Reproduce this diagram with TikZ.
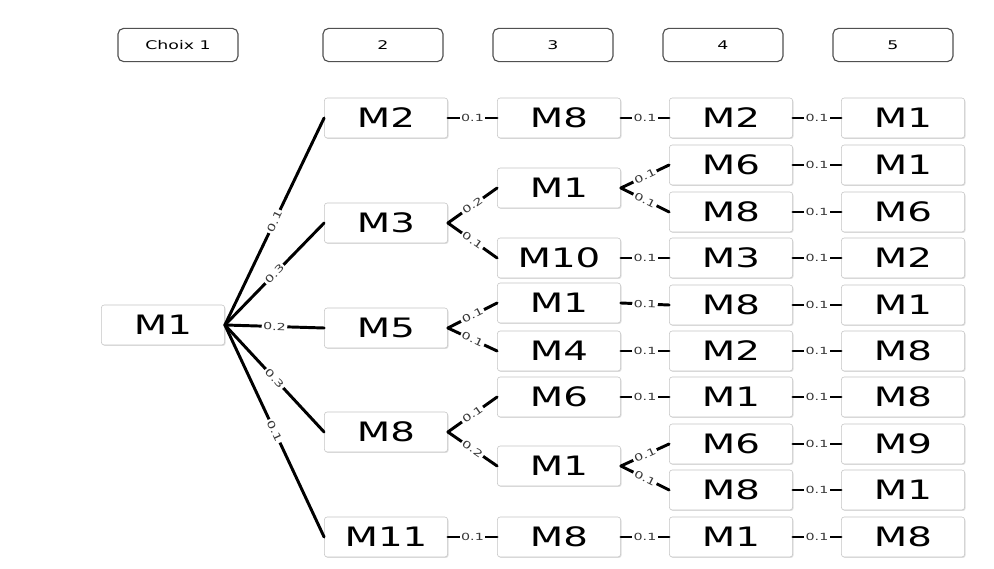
\documentclass[tikz,border=0pt]{standalone}
\usepackage{fontspec}
\setmainfont{DejaVu Sans}[FakeStretch=1.45]
\usetikzlibrary{shadows}
\definecolor{BoxGray}{HTML}{C4C4C4}
\definecolor{HeadGray}{HTML}{505050}
\definecolor{LabelGray}{HTML}{383838}

\begin{document}
\begin{tikzpicture}[x=0.025cm,y=-0.025cm,line cap=round,
  mbox/.style={draw=BoxGray,fill=white,rounded corners=2pt,minimum width=3.08cm,minimum height=1cm,inner sep=0pt,
    font=\fontsize{19}{21}\selectfont,drop shadow={opacity=.25,shadow xshift=.7pt,shadow yshift=-.7pt}},
  hbox/.style={draw=HeadGray,rounded corners=4pt,line width=.8pt,minimum width=3cm,minimum height=.83cm,inner sep=0pt,
    font=\fontsize{8.5}{10}\selectfont},
  link/.style={line width=2.1pt},
  prob/.style={midway,sloped,fill=white,inner sep=1pt,text=LabelGray,font=\fontsize{7}{8}\selectfont}]
  \useasboundingbox (0,0) rectangle (994,569);
  % en-tetes
  \node[hbox] (choix1) at (178,45) {Choix 1}; \node[hbox] (choix2) at (383,45) {2}; \node[hbox] (choix3) at (553,45) {3};
  \node[hbox] (choix4) at (723,45) {4}; \node[hbox] (choix5) at (893,45) {5};
  % boites
  \node[mbox] (r) at (163,325) {M1};
  \node[mbox] (a1) at (386,118) {M2}; \node[mbox] (a2) at (386,223) {M3}; \node[mbox] (a3) at (386,328) {M5};
  \node[mbox] (a4) at (386,432) {M8}; \node[mbox] (a5) at (386,537) {M11};
  \node[mbox] (b1) at (559,118) {M8}; \node[mbox] (b2) at (559,188) {M1}; \node[mbox] (b3) at (559,258) {M10};
  \node[mbox] (b4) at (559,303) {M1}; \node[mbox] (b5) at (559,351) {M4}; \node[mbox] (b6) at (559,397) {M6};
  \node[mbox] (b7) at (559,466) {M1}; \node[mbox] (b8) at (559,537) {M8};
  \node[mbox] (c1) at (731,118) {M2}; \node[mbox] (c2) at (731,165) {M6}; \node[mbox] (c3) at (731,212) {M8};
  \node[mbox] (c4) at (731,258) {M3}; \node[mbox] (c5) at (731,305) {M8}; \node[mbox] (c6) at (731,351) {M2};
  \node[mbox] (c7) at (731,397) {M1}; \node[mbox] (c8) at (731,444) {M6}; \node[mbox] (c9) at (731,490) {M8};
  \node[mbox] (c10) at (731,537) {M1};
  \node[mbox] (d1) at (903,118) {M1}; \node[mbox] (d2) at (903,165) {M1}; \node[mbox] (d3) at (903,212) {M6};
  \node[mbox] (d4) at (903,258) {M2}; \node[mbox] (d5) at (903,305) {M1}; \node[mbox] (d6) at (903,351) {M8};
  \node[mbox] (d7) at (903,397) {M8}; \node[mbox] (d8) at (903,444) {M9}; \node[mbox] (d9) at (903,490) {M1};
  \node[mbox] (d10) at (903,537) {M8};
  % choix 1 -> 2
  \draw[link] (r.east) -- (a1.west) node[prob] {0.1}; \draw[link] (r.east) -- (a2.west) node[prob] {0.3};
  \draw[link] (r.east) -- (a3.west) node[prob] {0.2}; \draw[link] (r.east) -- (a4.west) node[prob] {0.3};
  \draw[link] (r.east) -- (a5.west) node[prob] {0.1};
  % 2 -> 3
  \draw[link] (a1.east) -- (b1.west) node[prob] {0.1};
  \draw[link] (a2.east) -- (b2.west) node[prob] {0.2}; \draw[link] (a2.east) -- (b3.west) node[prob] {0.1};
  \draw[link] (a3.east) -- (b4.west) node[prob] {0.1}; \draw[link] (a3.east) -- (b5.west) node[prob] {0.1};
  \draw[link] (a4.east) -- (b6.west) node[prob] {0.1}; \draw[link] (a4.east) -- (b7.west) node[prob] {0.2};
  \draw[link] (a5.east) -- (b8.west) node[prob] {0.1};
  % 3 -> 4
  \draw[link] (b1.east) -- (c1.west) node[prob] {0.1};
  \draw[link] (b2.east) -- (c2.west) node[prob] {0.1}; \draw[link] (b2.east) -- (c3.west) node[prob] {0.1};
  \draw[link] (b3.east) -- (c4.west) node[prob] {0.1}; \draw[link] (b4.east) -- (c5.west) node[prob] {0.1};
  \draw[link] (b5.east) -- (c6.west) node[prob] {0.1}; \draw[link] (b6.east) -- (c7.west) node[prob] {0.1};
  \draw[link] (b7.east) -- (c8.west) node[prob] {0.1}; \draw[link] (b7.east) -- (c9.west) node[prob] {0.1};
  \draw[link] (b8.east) -- (c10.west) node[prob] {0.1};
  % 4 -> 5
  \draw[link] (c1.east) -- (d1.west) node[prob] {0.1}; \draw[link] (c2.east) -- (d2.west) node[prob] {0.1};
  \draw[link] (c3.east) -- (d3.west) node[prob] {0.1}; \draw[link] (c4.east) -- (d4.west) node[prob] {0.1};
  \draw[link] (c5.east) -- (d5.west) node[prob] {0.1}; \draw[link] (c6.east) -- (d6.west) node[prob] {0.1};
  \draw[link] (c7.east) -- (d7.west) node[prob] {0.1}; \draw[link] (c8.east) -- (d8.west) node[prob] {0.1};
  \draw[link] (c9.east) -- (d9.west) node[prob] {0.1}; \draw[link] (c10.east) -- (d10.west) node[prob] {0.1};
\end{tikzpicture}
\end{document}
